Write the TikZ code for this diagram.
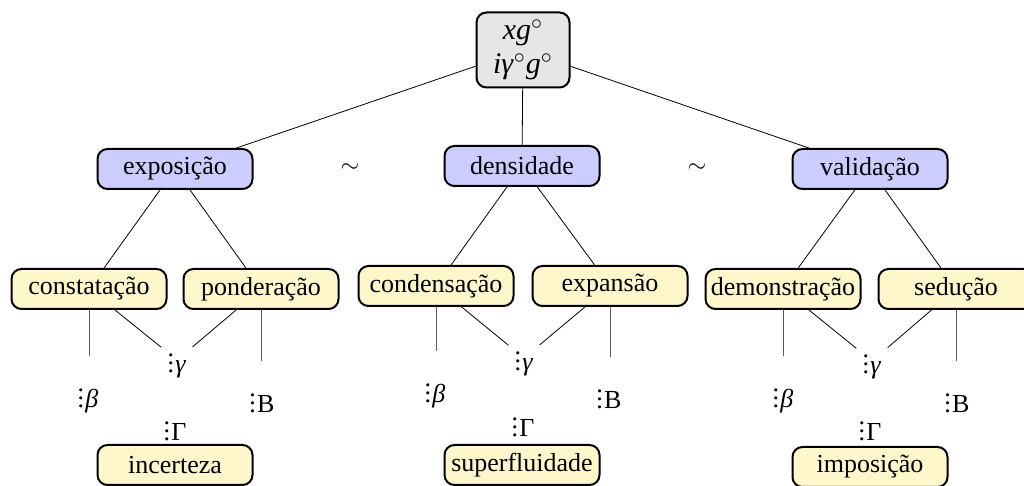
\documentclass[tikz,border=0pt]{standalone}
\usepackage{fontspec}
\setmainfont{Liberation Serif}
\definecolor{bluefill}{RGB}{204,204,255}
\definecolor{yelfill}{RGB}{255,247,204}
\definecolor{grayfill}{RGB}{230,230,230}
\definecolor{vline}{RGB}{90,90,90}
\newcommand{\vd}{$\vdots$\hspace{0.6pt}}
\begin{document}
\begin{tikzpicture}[x=0.5pt,y=-0.5pt,
  every node/.style={font=\fontsize{13}{15}\selectfont},
  box/.style={draw, line width=1pt, rounded corners=5pt, minimum width=77.5pt, minimum height=20pt, inner sep=2pt},
  topbox/.style={box, fill=grayfill, minimum width=46.5pt, minimum height=37.5pt, align=center, font=\fontsize{15}{17}\selectfont},
  bluebox/.style={box, fill=bluefill},
  yelbox/.style={box, fill=yelfill},
  lbl/.style={inner sep=3pt},
  link/.style={draw, line width=0.4pt},
  vlink/.style={draw=vline, line width=0.5pt, shorten >=7pt}
]
\useasboundingbox (0,0) rectangle (1024,486);

% top
\node[topbox] (top) at (523,50) {\textit{xg}$^\circ$\\\textit{iγ}$^\circ$\textit{g}$^\circ$};

% level 1
\node[bluebox] (expo) at (175,169) {exposição};
\node[bluebox] (dens) at (522,166) {densidade};
\node[bluebox] (valid) at (870,169) {validação};
\node (t1) at (350,168) {$\sim$};
\node (t2) at (697,168) {$\sim$};

\draw[link] (top) -- (expo);
\draw[link] (top) -- (dens);
\draw[link] (top) -- (valid);

% level 2
\node[yelbox] (cons) at (89,289) {constatação};
\node[yelbox] (pond) at (261,289) {ponderação};
\node[yelbox] (cond) at (436,286) {condensação};
\node[yelbox] (expa) at (610,286) {expansão};
\node[yelbox] (demo) at (783,289) {demonstração};
\node[yelbox] (sedu) at (956,289) {sedução};

\draw[link] (expo) -- (cons);
\draw[link] (expo) -- (pond);
\draw[link] (dens) -- (cond);
\draw[link] (dens) -- (expa);
\draw[link] (valid) -- (demo);
\draw[link] (valid) -- (sedu);

% group 1 labels
\node[lbl] (g1) at (177,360) {\vd\textit{γ}};
\node[lbl] (b1) at (88,395) {\vd\textit{β}};
\node[lbl] (B1) at (262,397) {\vd B};
\node[lbl] (G1) at (175,425) {\vd Γ};
\node[yelbox] (inc) at (175,465) {incerteza};

% group 2 labels
\node[lbl] (g2) at (524,358) {\vd\textit{γ}};
\node[lbl] (b2) at (435,390) {\vd\textit{β}};
\node[lbl] (B2) at (609,393) {\vd B};
\node[lbl] (G2) at (523,421) {\vd Γ};
\node[yelbox] (sup) at (522,465) {superfluidade};

% group 3 labels
\node[lbl] (g3) at (872,361) {\vd\textit{γ}};
\node[lbl] (b3) at (783,395) {\vd\textit{β}};
\node[lbl] (B3) at (957,397) {\vd B};
\node[lbl] (G3) at (870,425) {\vd Γ};
\node[yelbox] (imp) at (870,467) {imposição};

% connectors to gamma
\draw[link] (cons) -- (g1);
\draw[link] (pond) -- (g1);
\draw[link] (cond) -- (g2);
\draw[link] (expa) -- (g2);
\draw[link] (demo) -- (g3);
\draw[link] (sedu) -- (g3);

% vertical connectors
\draw[vlink] (cons) -- (cons |- b1.north);
\draw[vlink] (pond) -- (pond |- B1.north);
\draw[vlink] (cond) -- (cond |- b2.north);
\draw[vlink] (expa) -- (expa |- B2.north);
\draw[vlink] (demo) -- (demo |- b3.north);
\draw[vlink] (sedu) -- (sedu |- B3.north);
\end{tikzpicture}
\end{document}
